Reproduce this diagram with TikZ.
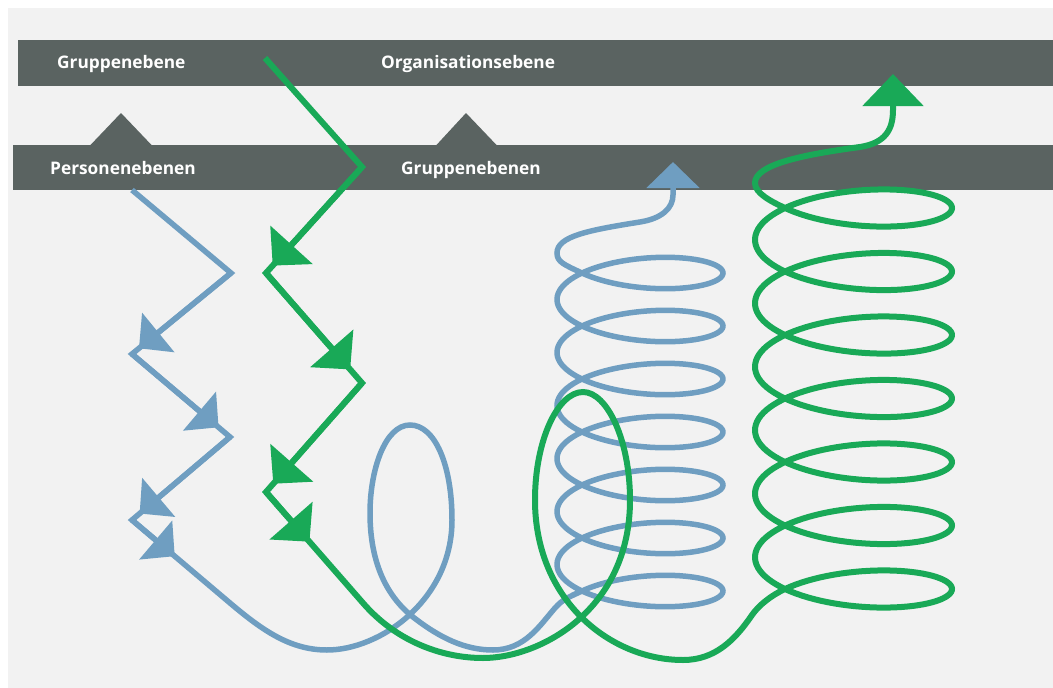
\documentclass[tikz,border=0pt]{standalone}
\usepackage{fontspec}
\setmainfont{Open Sans}
\usetikzlibrary{arrows.meta,calc}
\definecolor{bgc}{HTML}{F2F2F2}
\definecolor{barc}{HTML}{5A6361}
\definecolor{lblue}{HTML}{6F9EC1}
\definecolor{lgreen}{HTML}{19A957}
\tikzset{
  lbl/.style={text=white, font=\bfseries\fontsize{17.3}{17.3}\selectfont, inner sep=0pt, anchor=base west},
  barshape/.style={fill=barc},
  bline/.style={draw=lblue, line width=5.5pt, line join=miter},
  gline/.style={draw=lgreen, line width=6pt, line join=miter},
  btip/.style={bline, -{Triangle[length=25pt,width=50pt]}},
  gtip/.style={gline, -{Triangle[length=28pt,width=56pt]}},
}
\begin{document}
\begin{tikzpicture}[x=1pt,y=-1pt]
\useasboundingbox (0,0) rectangle (1053,688);
\fill[white] (0,0) rectangle (1053,688);
\fill[bgc] (8,8) rectangle (1053,688);
% bars
\fill[barshape] (18,40) rectangle (1053,86);
\fill[barshape] (13,145) rectangle (1053,190);
\fill[barshape] (90,145.5) -- (121,113) -- (152,145.5) -- cycle;
\fill[barshape] (436,145.5) -- (466,113) -- (497,145.5) -- cycle;
% labels
\node[lbl] (l1) at (57,68.5) {Gruppenebene};
\node[lbl] (l2) at (381,68.5) {Organisationsebene};
\node[lbl] (l3) at (50,174) {Personenebenen};
\node[lbl] (l4) at (401,174) {Gruppenebenen};
% blue coordinates
\coordinate (B0) at (132,190);
\coordinate (B1) at (231,273);
\coordinate (B2) at (132,354);
\coordinate (B3) at (230,437);
\coordinate (B4) at (132,520);
\coordinate (B5) at (230,603);
\coordinate (BP1) at (327,650);
\coordinate (BR) at (452,520);
\coordinate (BT) at (410,425);
\coordinate (BL) at (370,513);
\coordinate (BX) at (413,617);
\coordinate (BP2) at (493,650);
\coordinate (BM) at (555,608);
\coordinate (BE) at (582,591);
\coordinate (BLt) at (557,253);
\coordinate (BQ) at (640,222);
\coordinate (BV) at (673,195);
\coordinate (BA) at (673,162);
% blue path
\draw[bline, -{Triangle[length=26pt,width=52pt]}] (B0) -- (B1) -- (B2) -- (B3) -- (B4) -- (B5)
  .. controls (262,630) and (290,650) .. (BP1)
  .. controls (380,650) and (452,600) .. (BR)
  .. controls (452,465) and (435,425) .. (BT)
  .. controls (385,425) and (370,470) .. (BL)
  .. controls (370,560) and (385,595) .. (BX)
  .. controls (440,638) and (465,650) .. (BP2)
  .. controls (525,650) and (540,625) .. (BM)
  .. controls (563,599) and (568.4,597.4) .. (BE)
  -- plot[domain=-2.345:40.044, samples=600] ({640+83*cos(\x r)},{591-8.435*\x+27.67*sin(\x r)})
  .. controls (564,264.6) and (557,262) .. (BLt)
  .. controls (557,236) and (590,230) .. (BQ)
  .. controls (662,218.5) and (673,208) .. (BV)
  -- (BA);
\draw[btip] (B1) -- ($(B2)!9pt!(B1)$);
\draw[btip] (B2) -- ($(B3)!15pt!(B2)$);
\draw[btip] (B3) -- ($(B4)!10pt!(B3)$);
\draw[btip] (B4) -- ($(B4)!56pt!(B5)$);
% green coordinates
\coordinate (G0) at (265,58);
\coordinate (G1) at (362,167);
\coordinate (G2) at (266,273);
\coordinate (G3) at (362,383);
\coordinate (G4) at (266,492);
\coordinate (G5) at (363,603);
\coordinate (GQ1) at (483,658);
\coordinate (GR) at (630,500);
\coordinate (GT) at (583,392);
\coordinate (GL) at (535,500);
\coordinate (GQ2) at (683,660);
\coordinate (GM) at (752,615);
\coordinate (GE) at (785,589);
\coordinate (GLt) at (755,183);
\coordinate (GQ) at (860,147);
\coordinate (GV) at (893,110);
\coordinate (GA) at (893,74);
\draw[gline, -{Triangle[length=32pt,width=60pt]}] (G0) -- (G1) -- (G2) -- (G3) -- (G4) -- (G5)
  .. controls (395,640) and (440,658) .. (GQ1)
  .. controls (540,658) and (630,610) .. (GR)
  .. controls (630,440) and (607,392) .. (GT)
  .. controls (558,392) and (535,440) .. (GL)
  .. controls (535,600) and (610,660) .. (GQ2)
  .. controls (715,660) and (735,640) .. (GM)
  .. controls (759,605) and (771.4,595.3) .. (GE)
  -- plot[domain=-2.339:40.038, samples=600] ({853.5+98.5*cos(\x r)},{589-10.106*\x+32.9*sin(\x r)})
  .. controls (770,201) and (755,193) .. (GLt)
  .. controls (755,165) and (800,155) .. (GQ)
  .. controls (885,143) and (893,130) .. (GV)
  -- (GA);
\draw[gtip] (G1) -- ($(G2)!10pt!(G1)$);
\draw[gtip] (G2) -- ($(G3)!18pt!(G2)$);
\draw[gtip] (G3) -- ($(G4)!11pt!(G3)$);
\draw[gtip] (G4) -- ($(G4)!66pt!(G5)$);
\end{tikzpicture}
\end{document}
